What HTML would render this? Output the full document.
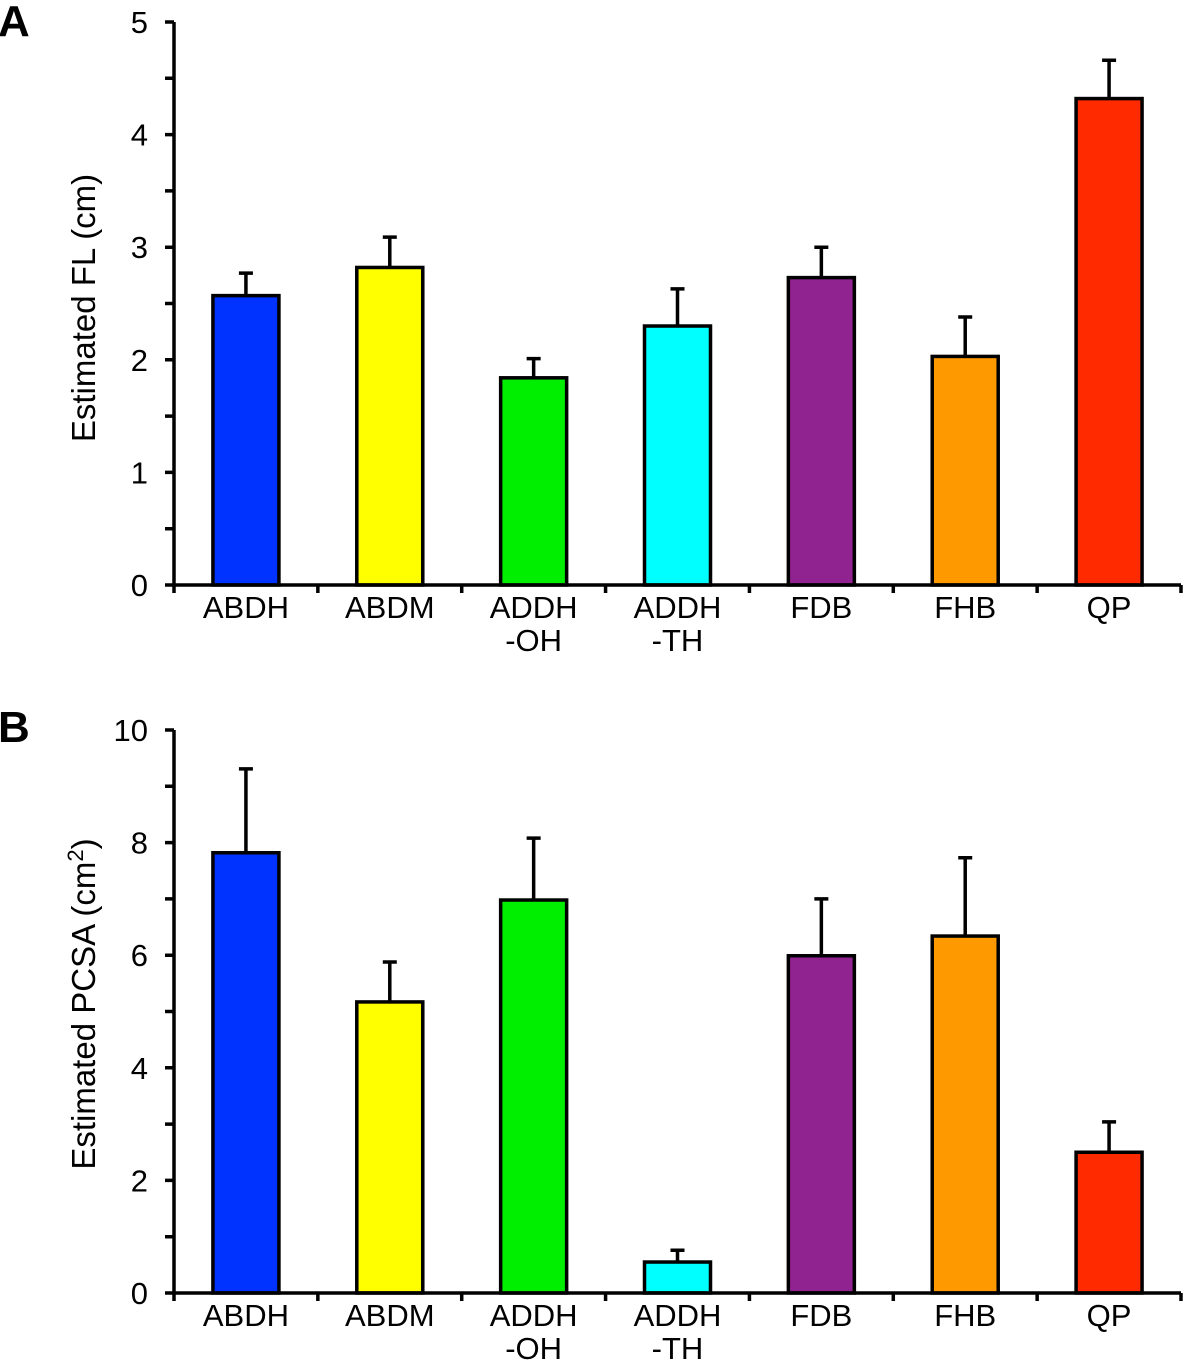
<!DOCTYPE html>
<html><head><meta charset="utf-8"><style>
body{margin:0;background:#fff}
svg{display:block}
text{font-family:"Liberation Sans",Arial,sans-serif;fill:#000}
</style></head><body>
<svg id="svg" width="1183" height="1367">
<text x="-2" y="36" font-size="44" font-weight="bold">A</text>
<text x="-2" y="742" font-size="44" font-weight="bold">B</text>
<text transform="translate(95,308) rotate(-90)" text-anchor="middle" font-size="33">Estimated FL (cm)</text>
<text transform="translate(95,1004) rotate(-90)" text-anchor="middle" font-size="33">Estimated PCSA (cm<tspan dy="-12" font-size="22">2</tspan><tspan dy="12">)</tspan></text>
</svg>
<script>
const categories=["ABDH","ABDM","ADDH\n-OH","ADDH\n-TH","FDB","FHB","QP"];
const colors=["#0033ff","#ffff00","#00ee00","#00ffff","#912391","#ff9900","#ff2a00"];
const flValues=[2.57,2.82,1.84,2.30,2.73,2.03,4.32];
const flErrors=[0.20,0.27,0.17,0.33,0.27,0.35,0.34];
const pcsaValues=[7.82,5.17,6.98,0.55,5.99,6.34,2.50];
const pcsaErrors=[1.49,0.71,1.10,0.21,1.01,1.39,0.54];
const flTicks=[0,1,2,3,4,5];
const pcsaTicks=[0,2,4,6,8,10];
const NS="http://www.w3.org/2000/svg";
const svg=document.getElementById('svg');
function mk(tag,attrs){const e=document.createElementNS(NS,tag);for(const k in attrs)e.setAttribute(k,attrs[k]);svg.appendChild(e);return e;}
function panel(p,vals,errs,ticks,y0,yTop,maxV,minorStep){
  const x0=174,x1=1181,bw=(x1-x0)/categories.length;
  const y=v=>y0-(v/maxV)*(y0-yTop);
  const xc=i=>x0+bw*(i+0.5);
  vals.forEach((v,i)=>{
    const eb=mk('path',{d:`M${xc(i)} ${y(v)}V${y(v+errs[i])}M${xc(i)-7} ${y(v+errs[i])}H${xc(i)+7}`,stroke:'#000','stroke-width':3.5,fill:'none'});
    
    
    const r=mk('rect',{x:xc(i)-33,y:y(v),width:66,height:y0-y(v),fill:colors[i],stroke:'#000','stroke-width':3.5});
    
    
    const lines=categories[i].split('\n');
    lines.forEach((l,j)=>{const t=mk('text',{x:xc(i),y:y0+33+j*33,'text-anchor':'middle','font-size':31});t.textContent=l;
      
      });
  });
  const ax=mk('path',{d:`M${x0} ${yTop}V${y0}H${x1}`,stroke:'#000','stroke-width':3.5,fill:'none'});
  
  
  let d='';
  for(let v=0;v<=maxV+1e-9;v+=minorStep)d+=`M${x0-9} ${y(v)}H${x0}`;
  for(let i=0;i<=categories.length;i++)d+=`M${x0+bw*i} ${y0}v8`;
  const tk=mk('path',{d:d,stroke:'#000','stroke-width':3.5});
  
  
  ticks.forEach(v=>{const t=mk('text',{x:x0-26,y:y(v)+11,'text-anchor':'end','font-size':31});t.textContent=v;
    
    });
}
panel('fl',flValues,flErrors,flTicks,585,22,5,0.5);
panel('pcsa',pcsaValues,pcsaErrors,pcsaTicks,1293,730,10,1);
</script>
</body></html>
